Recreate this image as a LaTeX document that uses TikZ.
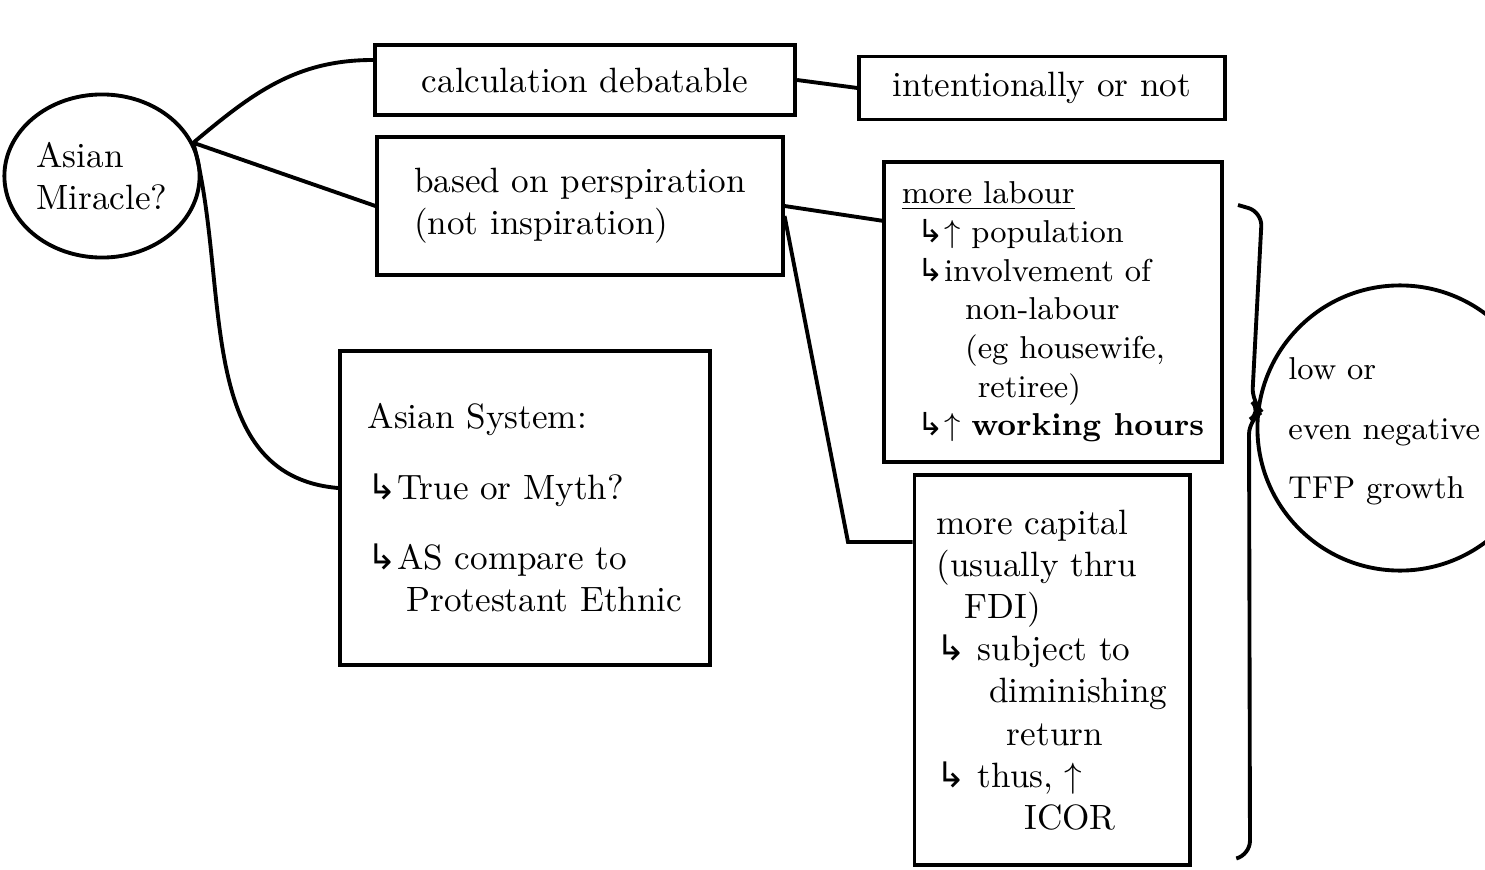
\documentclass[tikz,border=0pt]{standalone}
\usepackage{amssymb,amsmath}
\usepackage{fontspec}
\usepackage{tikz}
\usetikzlibrary{shapes.geometric}
\usetikzlibrary{calc}
\newfontfamily\arrowfont{DejaVu Sans}
\newcommand{\turnarrow}{{\arrowfont\char"21B3}}

\tikzset{
  box/.style={draw, line width=1.1pt, align=left, inner sep=4pt},
  bubble/.style={draw, line width=1.1pt, ellipse, align=left, inner sep=1pt},
  wire/.style={line width=1.1pt}
}

\begin{document}
\begin{tikzpicture}[x=0.01cm, y=-0.01cm]
        \useasboundingbox (0,0) rectangle (1485,870);
        \clip (0,0) rectangle (1485,870);
		\node[bubble, minimum width=1.87cm, minimum height=1.63cm] (miracle) at (102,176) {Asian\\Miracle?};
		\node[box, minimum width=4.2cm, minimum height=0.7cm] (calc) at (585,80) {calculation debatable};
		\node[box, minimum width=3.65cm, minimum height=0.63cm] (intent) at (1042,88) {intentionally or not};
		\node[box, minimum width=4.05cm, minimum height=1.38cm] (persp) at (580,206) {based on perspiration\\(not inspiration)};
		\node[box, minimum width=3.7cm, minimum height=3.13cm] (asys) at (525,508)
			{Asian System:\\[8pt] \turnarrow True or Myth?\\[8pt] \turnarrow AS compare to\\ \hspace{1.1em}Protestant Ethnic};
		\node[box, minimum width=3.37cm, minimum height=3.0cm, font=\small] (labour) at (1053,312)
			{\underline{more labour}\\
			 \hspace{0.5em}\turnarrow$\uparrow$ population\\
			 \hspace{0.5em}\turnarrow involvement of\\
			 \hspace{2em}non-labour\\
			 \hspace{2em}(eg housewife,\\
			 \hspace{2.4em}retiree)\\
			 \hspace{0.5em}\turnarrow$\uparrow$ \textbf{working hours}};
		\node[box, minimum width=2.75cm, minimum height=3.9cm] (capital) at (1052,670)
			{more capital\\
			 (usually thru\\
			 \hspace{0.8em}FDI)\\
			 \turnarrow\ subject to\\
			 \hspace{1.5em}diminishing\\
			 \hspace{2em}return\\
			 \turnarrow\ thus, $\uparrow$\\
			 \hspace{2.5em}ICOR};
		\node[draw, line width=1.1pt, circle, minimum size=2.85cm] (tfp) at (1400,428) {};
		\node[anchor=north west, align=left, font=\small] (tfptext) at (1276,345) {low or\\[6pt]even negative\\[6pt]TFP growth};
		% connectors
		\coordinate (hub) at (miracle.20);
		\draw[wire] (hub) to[out=40, in=180] ($(calc.west)+(0,-20)$);
		\draw[wire] (hub) -- (persp.west);
		\draw[wire] (hub) to[out=-75, in=175] ($(asys.west)+(0,-20)$);
		\draw[wire] (calc.east) -- (intent.west);
		\draw[wire] (persp.east) -- ($(labour.north west)!0.2!(labour.south west)$);
		\coordinate (bend) at (848,542);
		\draw[wire] ($(persp.east)+(0,10)$) -- (bend) -- (bend -| capital.west);
		% brace
		\coordinate (tip) at (1262,412);
		\draw[wire, rounded corners=4pt] (1238,205) -- (1262,212) -- (1252,402) -- (tip) -- (1249,420) -- (1250,855) -- (1238,858);
		\end{tikzpicture}
\end{document}
